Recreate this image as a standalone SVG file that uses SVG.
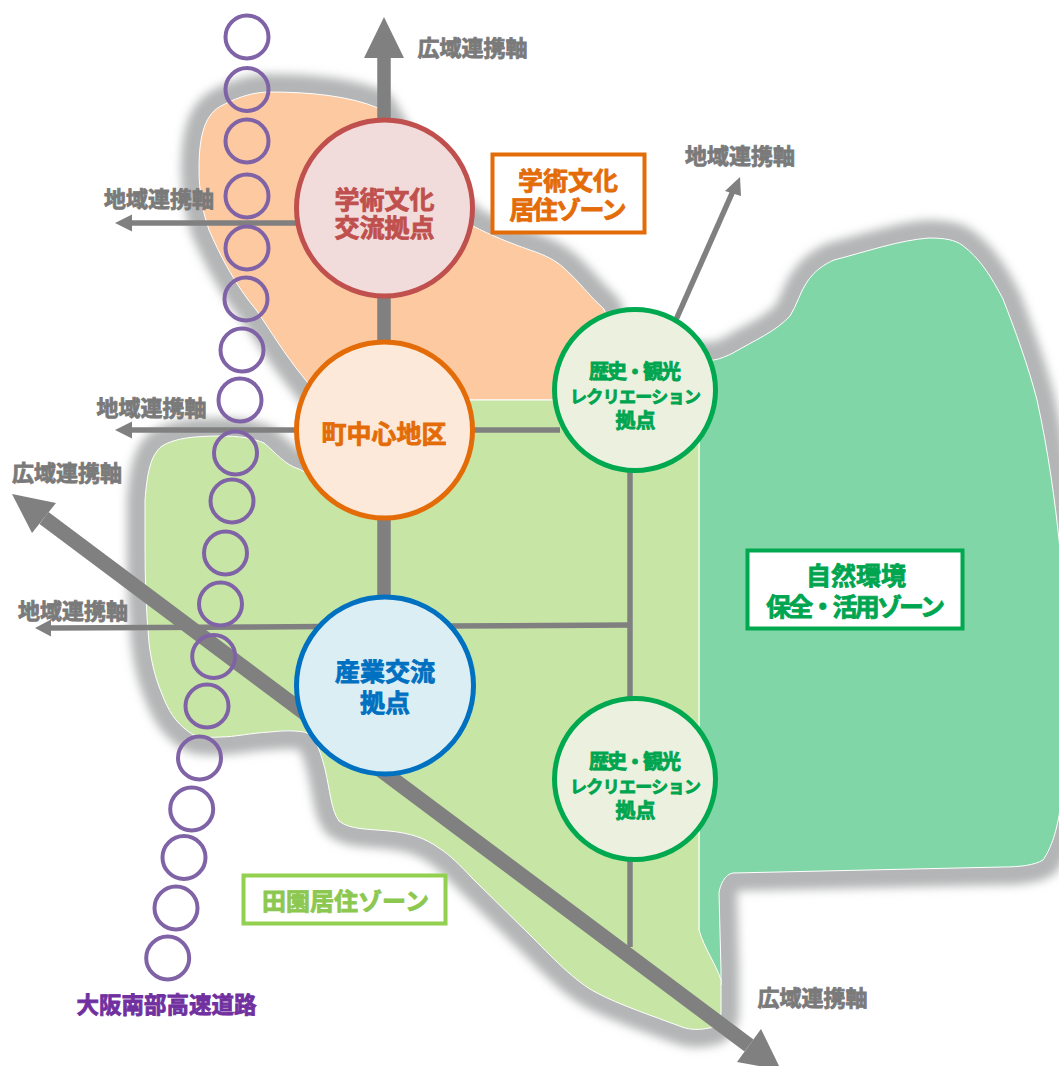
<svg xmlns="http://www.w3.org/2000/svg" width="1059" height="1066" viewBox="0 0 1059 1066">
<style>
text{font-family:"Noto Sans CJK JP","Noto Sans CJK SC",sans-serif;font-weight:700;text-anchor:middle;dominant-baseline:central;stroke-width:.8;paint-order:stroke}
.g{font-size:22px;fill:#7a7a7a;stroke:#7a7a7a}
.ln{stroke:#808080;fill:none}
.hd{fill:#808080}
.rg{fill:none;stroke:#7f63a6;stroke-width:4}
.zn{stroke:#fff;stroke-width:1}
.sh{fill:#b4b5b6;stroke:#b4b5b6;stroke-width:36;stroke-linejoin:round}
.red{font-size:25px;fill:#c0504d;stroke:#c0504d}
.org{font-size:25px;fill:#e36c09;stroke:#e36c09}
.blu{font-size:25px;fill:#0070c0;stroke:#0070c0}
.grn{font-size:25px;fill:#00a550;stroke:#00a550}
.gs{font-size:20px;fill:#00a550;stroke:#00a550}
</style>
<defs>
<path id="zo" d="M199 169C199 135 205 113 223 105C240 96 255 92 270 92C310 92 350 96 378 108L420 180L473 226C490 235 510 243 530 250C545 255 555 260 564 268C578 280 590 297 604 309L640 400L320 400L315 392L304 378C285 355 270 330 257 311C235 285 220 255 209 230C202 210 199 190 199 169Z"/>
<path id="zg" d="M145 500C147 475 150 455 162 446C175 438 195 436 220 436C240 436 252 438 264 443C275 452 285 465 299 469L320 480L330 400L699 400L699 930C705 950 715 962 721 980L721 1013C720 1022 716 1028 709 1028C700 1030 690 1030 682 1027C650 1015 620 1005 597 993C575 982 550 955 530 935L473 879C460 865 450 855 439 848C425 838 410 833 389 831C370 829 350 830 339 821C331 810 330 790 325 769C320 750 315 735 304 732C290 730 280 731 270 732C250 733 235 737 220 737C205 738 195 737 189 732C175 722 168 710 162 694C155 678 151 660 149 643C146 610 145 580 145 547Z"/>
<path id="zt" d="M699 360L714 360C720 359 727 356 733 353C755 340 775 332 790 316C797 305 800 292 807 282C815 270 825 264 834 260C865 252 900 240 929 238C945 238 955 240 962 245C980 258 992 278 1003 299C1015 330 1028 365 1037 400C1048 450 1055 500 1060 549L1060 810C1056 835 1050 850 1043 860C1035 865 1020 867 1003 867L733 873C725 874 720 885 719 893L721 970L721 985L699 940Z"/>
<filter id="blur" x="-10%" y="-10%" width="120%" height="120%"><feGaussianBlur stdDeviation="5"/></filter>
</defs>
<g id="shadow" filter="url(#blur)" class="sh"><use href="#zo"/><use href="#zg"/><use href="#zt"/></g>
<g id="zones">
<use href="#zt" fill="#80d6a6" class="zn"/>
<use href="#zo" fill="#fcc9a0" class="zn"/>
<use href="#zg" fill="#c7e5a5" class="zn"/>
</g>
<g id="connectors">
<path class="ln" stroke-width="13.5" d="M384 58V600"/>
<polygon class="hd" points="384,17 404,58 364,58"/>
<path class="ln" stroke-width="5.5" d="M300 223H132"/>
<polygon class="hd" points="115,223 132,214.500 132,231.500"/>
<path class="ln" stroke-width="5.5" d="M300 430H132"/>
<polygon class="hd" points="115,430 132,421.500 132,438.500"/>
<path class="ln" stroke-width="5.500" d="M470 430H560"/>
<path class="ln" stroke-width="5.500" d="M51 628L325 626.500M445 626L630 625"/>
<polygon class="hd" points="35,628 51,619.500 51,636.500"/>
<path class="ln" stroke-width="5.500" d="M630 470V947"/>
<path class="ln" stroke-width="5.500" d="M675 322L733 191"/>
<polygon class="hd" points="740,177 741,196 725,191"/>
<path class="ln" stroke-width="15" d="M44 518L749 1045.500"/>
<polygon class="hd" points="12,494 56,503 32,533"/>
<polygon class="hd" points="781,1070 761,1029 737,1062"/>
</g>
<g id="expressway">
<circle class="rg" cx="247" cy="37" r="21.500"/><circle class="rg" cx="247" cy="89.500" r="21.500"/><circle class="rg" cx="247" cy="141" r="21.500"/><circle class="rg" cx="247" cy="196" r="21.500"/><circle class="rg" cx="247" cy="248" r="21.500"/><circle class="rg" cx="246" cy="299" r="21.500"/><circle class="rg" cx="242" cy="350" r="21.500"/><circle class="rg" cx="240" cy="400" r="21.500"/><circle class="rg" cx="235.500" cy="453" r="21.500"/><circle class="rg" cx="232" cy="501" r="21.500"/><circle class="rg" cx="225.500" cy="553" r="21.500"/><circle class="rg" cx="220.500" cy="604" r="21.500"/><circle class="rg" cx="213.700" cy="656.500" r="21.500"/><circle class="rg" cx="207" cy="706" r="21.500"/><circle class="rg" cx="199.500" cy="758" r="21.500"/><circle class="rg" cx="191.700" cy="809" r="21.500"/><circle class="rg" cx="184" cy="857.500" r="21.500"/><circle class="rg" cx="176" cy="908" r="21.500"/><circle class="rg" cx="167.700" cy="958" r="21.500"/>
<text x="166.500" y="1003" font-size="22.500" fill="#7030a0" stroke="#7030a0">大阪南部高速道路</text>
</g>
<g id="node-academic"><circle cx="384.500" cy="208" r="88" fill="#f2dcdb" stroke="#c0504d" stroke-width="5"/><text class="red" x="384.500" y="198">学術文化</text><text class="red" x="384.500" y="226">交流拠点</text></g>
<g id="node-town"><circle cx="384.500" cy="430" r="88" fill="#fde9d9" stroke="#e36c09" stroke-width="5"/><text class="org" x="384" y="432">町中心地区</text></g>
<g id="node-industry"><circle cx="385" cy="685.500" r="88.500" fill="#dbeef4" stroke="#0070c0" stroke-width="5"/><text class="blu" x="385" y="670">産業交流</text><text class="blu" x="385" y="701">拠点</text></g>
<g id="node-history1"><circle cx="635" cy="390" r="80.500" fill="#ebf1de" stroke="#00a84f" stroke-width="5"/><text class="gs" x="635" y="370" textLength="92">歴史・観光</text><text class="gs" x="635.500" y="395" style="font-size:17px" textLength="131">レクリエーション</text><text class="gs" x="635.500" y="419">拠点</text></g>
<g id="node-history2"><circle cx="635" cy="779" r="80.500" fill="#ebf1de" stroke="#00a84f" stroke-width="5"/><text class="gs" x="635" y="760" textLength="92">歴史・観光</text><text class="gs" x="635.500" y="785" style="font-size:17px" textLength="131">レクリエーション</text><text class="gs" x="635.500" y="809">拠点</text></g>
<g id="zone-academic"><rect x="492.500" y="154.500" width="152" height="78" fill="#fff" stroke="#e36c09" stroke-width="4"/><text class="org" x="568" y="179">学術文化</text><text class="org" x="568" y="208" textLength="117">居住ゾーン</text></g>
<g id="zone-nature"><rect x="747.500" y="550.500" width="215" height="78" fill="#fff" stroke="#00a84f" stroke-width="4"/><text class="grn" x="856" y="573.500">自然環境</text><text class="grn" x="855.500" y="605" textLength="179">保全・活用ゾーン</text></g>
<g id="zone-rural"><rect x="243.500" y="875.500" width="202" height="48" fill="#fff" stroke="#92d050" stroke-width="4"/><text x="345.500" y="899" font-size="24" fill="#8cc850" stroke="#8cc850">田園居住ゾーン</text></g>
<g id="labels">
<text class="g" x="472.500" y="46">広域連携軸</text>
<text class="g" x="159" y="197">地域連携軸</text>
<text class="g" x="151.500" y="406">地域連携軸</text>
<text class="g" x="67" y="471">広域連携軸</text>
<text class="g" x="73" y="609">地域連携軸</text>
<text class="g" x="740" y="154">地域連携軸</text>
<text class="g" x="812.500" y="996">広域連携軸</text>
</g>
</svg>
